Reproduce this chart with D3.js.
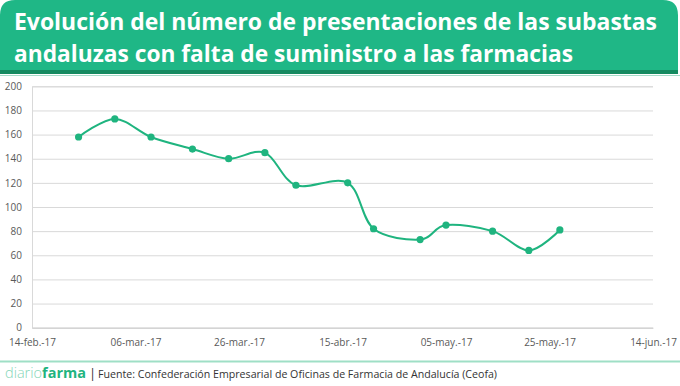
<!DOCTYPE html>
<html>
<head>
<meta charset="utf-8">
<script src="https://cdn.jsdelivr.net/npm/d3@7"></script>
<style>
  html, body { margin: 0; padding: 0; background: #fff; }
  svg { display: block; }
</style>
</head>
<body>
<svg id="chart" width="680" height="386"></svg>
<script>
// ---- data ----
const titleLines = [
  "Evolución del número de presentaciones de las subastas",
  "andaluzas con falta de suministro a las farmacias"
];
const dates = ["2017-02-23","2017-03-02","2017-03-09","2017-03-17","2017-03-24","2017-03-31","2017-04-06",
               "2017-04-16","2017-04-21","2017-04-30","2017-05-05","2017-05-14","2017-05-21","2017-05-27"];
const values = [158, 173, 158, 148, 140, 145, 118, 120, 82, 73, 85, 80, 64, 81];
const xTickDates = ["2017-02-14","2017-03-06","2017-03-26","2017-04-15","2017-05-05","2017-05-25","2017-06-14"];
const xTickLabels = ["14-feb.-17","06-mar.-17","26-mar.-17","15-abr.-17","05-may.-17","25-may.-17","14-jun.-17"];
const yTicks = [0, 20, 40, 60, 80, 100, 120, 140, 160, 180, 200];
const sourceText = "Fuente:  Confederación Empresarial de Oficinas de Farmacia de Andalucía (Ceofa)";

const parse = d3.utcParse("%Y-%m-%d");
const svg = d3.select("#chart");

// ---- header ----
const W = 678, H = 70, r = 15;
svg.append("path")
  .attr("d", `M0,${H} L0,${r} Q0,0 ${r},0 L${W - r},0 Q${W},0 ${W},${r} L${W},${H} Z`)
  .attr("fill", "#1fb786");
svg.append("rect").attr("x", 0).attr("y", 70).attr("width", W).attr("height", 4).attr("fill", "#158a60");
svg.append("rect").attr("x", 0).attr("y", 75).attr("width", 680).attr("height", 1).attr("fill", "#a6dcc8");

const titleLen = [643, 559];
titleLines.forEach((t, i) => {
  svg.append("text")
    .attr("x", 14).attr("y", 30 + i * 32)
    .attr("font-family", "'Open Sans', sans-serif")
    .attr("font-weight", "bold")
    .attr("font-size", 23)
    .attr("fill", "#ffffff")
    .attr("textLength", titleLen[i])
    .attr("lengthAdjust", "spacingAndGlyphs")
    .text(t);
});

// ---- scales ----
const x = d3.scaleUtc()
  .domain([parse(xTickDates[0]), parse(xTickDates[xTickDates.length - 1])])
  .range([32, 653]);
const y = d3.scaleLinear().domain([0, 200]).range([327.7, 86.3]);

const g = svg.append("g");

// gridlines
const yAxis = d3.axisLeft(y).tickValues(yTicks).tickSize(-(653 - 32)).tickPadding(10);
const ya = g.append("g").attr("transform", "translate(32,0)").call(yAxis);
ya.select(".domain").attr("stroke", "#d9d9d9");
ya.selectAll(".tick line").attr("stroke", "#d9d9d9").attr("stroke-width", 1);
ya.selectAll(".tick text")
  .attr("font-family", "'Open Sans', sans-serif").attr("font-size", 10)
  .attr("fill", "#595959");

// x axis labels
const xAxis = d3.axisBottom(x)
  .tickValues(xTickDates.map(parse))
  .tickFormat((d, i) => xTickLabels[i])
  .tickSize(0).tickPadding(11);
const xa = g.append("g").attr("transform", "translate(0,327.7)").call(xAxis);
xa.select(".domain").attr("stroke", "#d0d0d0");
xa.selectAll(".tick text")
  .attr("font-family", "'Open Sans', sans-serif").attr("font-size", 10)
  .attr("fill", "#595959");

// ---- line ----
const pts = dates.map((d, i) => [x(parse(d)), y(values[i])]);
const lineColor = "#1fb47f";
g.append("path")
  .attr("d", d3.line().curve(d3.curveCardinal.tension(0))(pts))
  .attr("fill", "none")
  .attr("stroke", lineColor)
  .attr("stroke-width", 2);
g.selectAll("circle.pt").data(pts).enter().append("circle")
  .attr("class", "pt")
  .attr("cx", d => d[0]).attr("cy", d => d[1]).attr("r", 3.6)
  .attr("fill", lineColor);

// ---- footer ----
svg.append("rect").attr("x", 0).attr("y", 360.5).attr("width", 680).attr("height", 2).attr("fill", "#9fdfc6");
const ft = svg.append("text").attr("x", 5).attr("y", 378)
  .attr("font-family", "'Open Sans', sans-serif")
  .attr("textLength", 81).attr("lengthAdjust", "spacingAndGlyphs");
ft.append("tspan").attr("font-size", 15).attr("fill", "#86d6b8").attr("font-weight", 300).text("diario");
ft.append("tspan").attr("font-size", 15).attr("fill", "#1fb47f").attr("font-weight", "bold").text("farma");
svg.append("text").attr("x", 89).attr("y", 378)
  .attr("font-family", "'Open Sans', sans-serif").attr("font-size", 13).attr("fill", "#333")
  .text("|");
svg.append("text").attr("x", 98).attr("y", 378)
  .attr("font-family", "'Open Sans', sans-serif").attr("font-size", 11.5).attr("fill", "#333")
  .attr("textLength", 399).attr("lengthAdjust", "spacingAndGlyphs")
  .text(sourceText);
</script>
</body>
</html>
